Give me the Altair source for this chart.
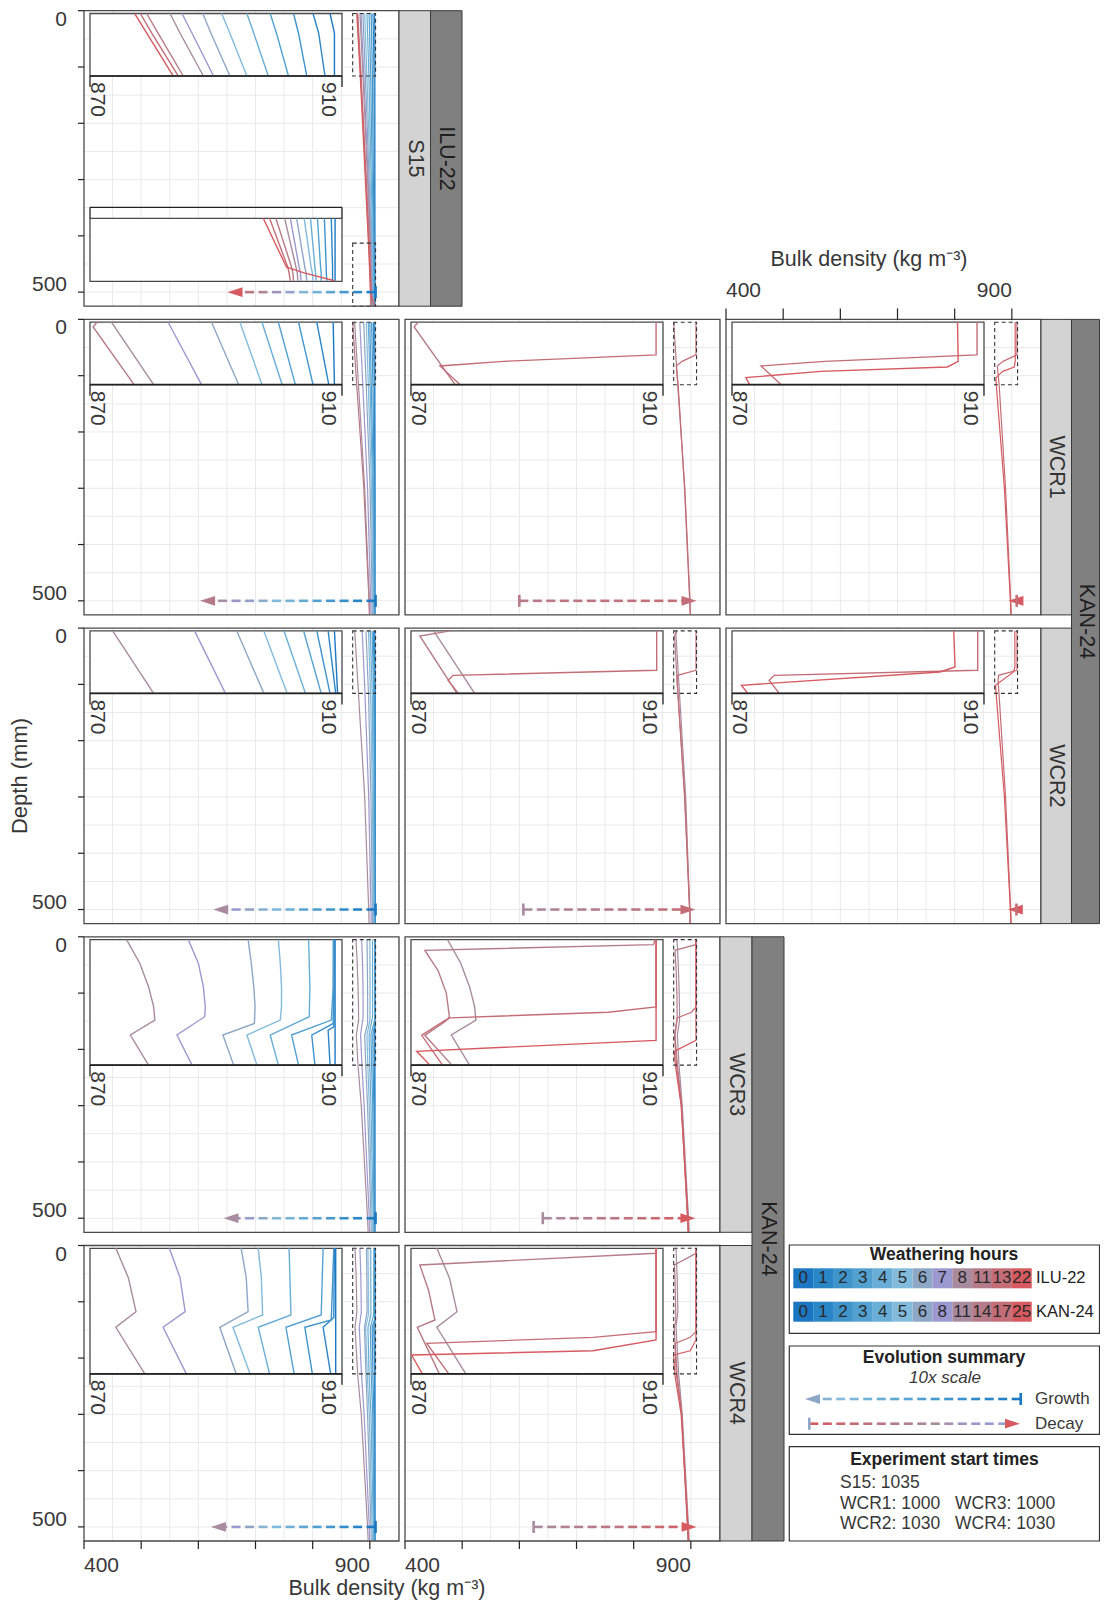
import altair as alt
import pandas as pd

# ======================= DATA =======================
ILU_HOURS = [0, 1, 2, 3, 4, 5, 6, 7, 8, 11, 13, 22]
KAN_HOURS = [0, 1, 2, 3, 4, 5, 6, 8, 11, 14, 17, 25]
START_LEFT = ["S15: 1035", "WCR1: 1000", "WCR2: 1030"]
START_RIGHT = ["WCR3: 1000", "WCR4: 1030"]

X_TICKS = [400, 500, 600, 700, 800, 900]
X_LABELS = [400, 900]
Y_TICKS = [0, 100, 200, 300, 400, 500]
Y_LABELS = [0, 500]
GRID_X = [450, 500, 550, 600, 650, 700, 750, 800, 850, 900, 950]
GRID_Y = [50, 100, 150, 200, 250, 300, 350, 400, 450, 500]
INSET_TICKS = [870, 910]

# S15 (ILU-22): density (kg m-3) at depth (mm); one row per weathering step (rank 0..11)
S15_DEPTH = [5, 40, 116, 413, 500, 510, 524]
S15_RHO = [
    [908.1, 908.8, 908.8, 908.9, 908.9, 908.9, 908.9],
    [905.4, 906.3, 907.3, 908.3, 908.5, 908.5, 908.5],
    [902.3, 903.1, 904.4, 907.2, 907.5, 907.5, 907.6],
    [898.6, 899.6, 901.5, 906.1, 906.6, 906.7, 906.7],
    [894.9, 896.0, 898.3, 905.0, 905.7, 905.8, 905.9],
    [890.9, 892.2, 894.9, 904.0, 905.1, 905.3, 905.4],
    [887.9, 889.2, 892.2, 902.8, 904.1, 904.3, 904.4],
    [884.6, 886.2, 889.6, 901.8, 903.2, 903.4, 903.5],
    [882.7, 884.3, 888.0, 900.9, 902.7, 902.9, 903.0],
    [879.0, 880.8, 884.8, 899.5, 902.0, 902.2, 902.3],
    [878.0, 879.8, 884.0, 898.5, 901.4, 901.6, 901.8],
    [877.1, 879.0, 883.2, 897.5, 901.2, 904.0, 908.8],
]

# WCR1 (KAN-24)
WCR1_DEPTH = [5, 116, 300, 500, 524]
WCR1_RHO = [
    [908.6, 908.8, 909.0, 909.0, 909.0],
    [906.0, 907.9, 908.5, 908.7, 908.7],
    [903.1, 905.4, 907.4, 908.0, 908.1],
    [899.9, 902.6, 906.0, 907.2, 907.4],
    [897.3, 900.5, 904.8, 906.5, 906.7],
    [893.8, 897.3, 903.0, 905.5, 905.8],
    [889.3, 893.6, 900.5, 904.0, 904.4],
    [882.4, 887.7, 896.0, 901.5, 902.0],
    [873.4, 880.1, 891.0, 899.0, 899.6],
]
WCR1_R9 = ([5, 13.5, 116, 300, 500, 524], [871.1, 870.5, 877.0, 889.5, 898.5, 899.2])
WCR1_R10 = ([5, 63, 74.5, 82.7, 116, 300, 500, 524], [908.9, 908.9, 884.7, 874.6, 877.8, 889.0, 898.0, 898.8])
WCR1_R11 = ([5, 74.5, 84.5, 92.3, 103.5, 116, 300, 500, 524],
            [905.8, 905.9, 904.2, 884.1, 872.2, 872.8, 887.0, 897.5, 898.3])

# WCR2 (KAN-24)
WCR2_DEPTH = [5, 116, 300, 500, 524]
WCR2_RHO = [
    [908.8, 909.3, 909.3, 909.3, 909.3],
    [907.8, 909.0, 909.0, 909.0, 909.0],
    [906.0, 908.1, 908.5, 908.7, 908.7],
    [903.9, 906.7, 907.5, 908.0, 908.1],
    [900.8, 904.2, 906.0, 907.0, 907.2],
    [897.6, 901.3, 904.5, 906.0, 906.3],
    [893.3, 897.6, 902.0, 904.5, 904.8],
    [886.6, 891.5, 898.0, 902.0, 902.4],
    [873.6, 880.1, 891.0, 898.0, 898.7],
]
WCR2_R9 = ([5, 14, 116, 300, 500, 524], [876.2, 871.4, 877.3, 889.5, 898.0, 899.0])
WCR2_R10 = ([5, 75, 83.9, 92.8, 116, 300, 500, 524], [909.0, 909.0, 876.7, 875.9, 877.5, 889.0, 897.8, 898.6])
WCR2_R11 = ([5, 69, 78, 101.6, 116, 300, 500, 524], [905.2, 905.4, 903.0, 871.5, 872.5, 887.0, 897.5, 898.3])

# WCR3 (KAN-24): (depths, densities) per rank
WCR3_LINES = {
    0: ([5, 228, 300, 500, 524], [908.9, 908.9, 908.9, 908.9, 908.9]),
    1: ([5, 160, 166, 228, 300, 500, 524], [908.8, 908.7, 907.8, 908.1, 908.4, 908.6, 908.7]),
    2: ([5, 154, 174.5, 228, 300, 500, 524], [908.7, 908.6, 905.2, 905.7, 907.0, 908.0, 908.3]),
    3: ([5, 89, 148, 174.5, 228, 300, 500, 524], [908.6, 908.6, 908.3, 902.0, 903.1, 905.0, 907.0, 907.5]),
    4: ([5, 89, 142, 174.5, 228, 300, 500, 524], [904.7, 904.9, 904.8, 898.6, 899.9, 902.0, 906.0, 906.5]),
    5: ([5, 47, 89, 124, 148, 174.5, 228, 300, 500, 524],
        [899.9, 900.2, 900.4, 900.4, 900.2, 894.9, 896.5, 899.0, 904.0, 904.5]),
    6: ([5, 47, 89, 124, 154, 174.5, 228, 300, 500, 524],
        [895.1, 895.6, 896.0, 896.2, 896.1, 891.1, 892.8, 896.0, 902.0, 902.5]),
    7: ([5, 47, 89, 124, 142, 174.5, 228, 300, 500, 524],
        [885.6, 887.2, 888.0, 888.3, 888.2, 883.8, 886.2, 890.0, 899.0, 899.5]),
    8: ([5, 47, 89, 124, 148, 174.5, 228, 300, 500, 524],
        [875.8, 877.9, 879.3, 880.1, 880.3, 876.4, 879.3, 885.0, 896.0, 897.0]),
    9: ([5, 14, 24, 60, 100, 142, 150, 175, 228, 300, 500, 524],
        [908.7, 908.5, 872.2, 874.3, 875.6, 876.1, 875.5, 872.2, 876.5, 884.0, 894.0, 895.0]),
    10: ([5, 124.7, 134, 144, 150, 175, 228, 300, 500, 524],
         [908.9, 908.9, 901.3, 876.2, 875.2, 871.7, 875.0, 883.5, 894.5, 895.5]),
    11: ([5, 184, 203.5, 228, 300, 500, 524], [908.9, 908.9, 870.9, 873.0, 883.0, 895.0, 896.0]),
}

# WCR4 (KAN-24)
WCR4_LINES = {
    0: ([5, 228, 300, 500, 524], [909.0, 909.0, 909.0, 909.0, 909.0]),
    1: ([5, 128, 145.3, 228, 300, 500, 524], [908.8, 908.7, 907.0, 908.2, 908.5, 908.7, 908.8]),
    2: ([5, 132.4, 145.3, 228, 300, 500, 524], [908.7, 908.3, 904.1, 905.3, 907.0, 908.0, 908.3]),
    3: ([5, 123.5, 145.3, 228, 300, 500, 524], [907.0, 906.7, 901.1, 902.4, 905.0, 907.0, 907.5]),
    4: ([5, 123.5, 145.3, 228, 300, 500, 524], [901.6, 901.9, 896.7, 898.5, 902.0, 906.0, 906.5]),
    5: ([5, 57.5, 123.5, 145.3, 228, 300, 500, 524], [896.7, 897.2, 897.4, 892.7, 895.4, 899.0, 904.0, 904.5]),
    6: ([5, 57.5, 117.6, 145.3, 228, 300, 500, 524], [894.0, 894.8, 895.1, 890.6, 893.2, 896.0, 902.0, 902.5]),
    7: ([5, 57.5, 117.6, 145.3, 228, 300, 500, 524], [882.6, 884.3, 885.1, 881.6, 885.3, 890.0, 899.0, 899.5]),
    8: ([5, 57.5, 117.6, 145.3, 228, 300, 500, 524], [874.1, 876.1, 877.3, 874.1, 878.7, 885.0, 896.0, 897.0]),
    9: ([5, 13.9, 34.6, 80, 132.4, 145.3, 228, 300, 500, 524],
        [908.9, 908.9, 871.4, 872.8, 873.8, 871.0, 874.5, 884.0, 894.0, 895.0]),
    10: ([5, 153, 163.2, 173.8, 228, 300, 500, 524], [908.9, 908.9, 898.9, 872.5, 876.0, 884.0, 894.5, 895.5]),
    11: ([5, 167.8, 187, 194.6, 228, 300, 500, 524], [908.9, 908.9, 898.9, 870.1, 871.8, 883.0, 895.0, 896.0]),
}

# panels: experiment, shown weathering ranks, evolution-summary arrow (10x scale)
PANEL_EXP = ["S15", "WCR1", "WCR1", "WCR1", "WCR2", "WCR2", "WCR2", "WCR3", "WCR3", "WCR4", "WCR4"]
PANEL_RANKS = [list(range(12)), list(range(10)), [9, 10], [10, 11], list(range(9)), [8, 9, 10], [10, 11],
               list(range(9)), [8, 9, 10, 11], list(range(9)), [8, 9, 10, 11]]
ARROW_FROM = [910, 910, 600, 908.5, 910, 607, 908, 910, 641, 910, 625]
ARROW_TO = [651, 603, 910, 894, 626, 908, 893, 644, 908, 622, 910]
ARROW_RANKS = [(0, 11), (0, 9), (9, 10), (10, 11), (0, 8), (8, 10), (10, 11), (0, 8), (8, 11), (0, 8), (8, 11)]
ARROW_DEPTH = 500
INSET_WINDOWS = {"S15": [(5, 116), (413, 525)], "WCR1": [(5, 116)], "WCR2": [(5, 116)],
                 "WCR3": [(5, 228)], "WCR4": [(5, 228)]}

# ======================= STYLE / LAYOUT =======================
COLORS = ["#1b77c2", "#2b86c8", "#3f94cc", "#53a1d1", "#69aed6", "#82bbdb",
          "#8da7c6", "#9c98d0", "#a98b9f", "#b67b88", "#c46d76", "#d65a5f"]
FONT = "Liberation Sans"
TXT = "#383838"
GRID = "#e9e9e9"
FRAME = "#4a4a4a"
LIGHT, DARK = "#d3d3d3", "#808080"

OFF = 8
CANVAS_W, CANVAS_H = 1092, 1592
COL_LEFT = [84, 405, 726]
ROW_TOP = [10.7, 319.4, 628.1, 936.8, 1245.5]
PW, PH = 315, 295.5
PANEL_GRID = [(0, 0), (1, 0), (1, 1), (1, 2), (2, 0), (2, 1), (2, 2), (3, 0), (3, 1), (4, 0), (4, 1)]
X_DOMAIN = [400, 951]
Y_DOMAIN = [0, 525]
INSET_X = [870, 910]
INSET_PX = [6, 258]
INSET2_PY = [207.6, 270.6]


def build_lines(depth, rho):
    return {r: (depth, rho[r]) for r in range(len(rho))}


EXP_LINES = {"S15": build_lines(S15_DEPTH, S15_RHO)}
EXP_LINES["WCR1"] = build_lines(WCR1_DEPTH, WCR1_RHO)
EXP_LINES["WCR1"].update({9: WCR1_R9, 10: WCR1_R10, 11: WCR1_R11})
EXP_LINES["WCR2"] = build_lines(WCR2_DEPTH, WCR2_RHO)
EXP_LINES["WCR2"].update({9: WCR2_R9, 10: WCR2_R10, 11: WCR2_R11})
EXP_LINES["WCR3"] = WCR3_LINES
EXP_LINES["WCR4"] = WCR4_LINES


def sx(col, dom=X_DOMAIN, p0=0, p1=PW):
    l = COL_LEFT[col] - OFF
    return alt.Scale(domain=dom, range=[l + p0, l + p1], nice=False, zero=False)


def sy(row, dom=Y_DOMAIN, p0=0, p1=PH):
    t = ROW_TOP[row] - OFF
    return alt.Scale(domain=dom, range=[t + p0, t + p1], nice=False, zero=False)


PX = alt.Scale(domain=[0, 1108], range=[-OFF, 1108 - OFF], nice=False, zero=False)
PY = alt.Scale(domain=[0, 1608], range=[-OFF, 1608 - OFF], nice=False, zero=False)


def C(df, mark, kw, xf, yf, XS, YS, x2=None, y2=None, **extra):
    enc = dict(x=alt.X(xf, type="quantitative", scale=XS, axis=None),
               y=alt.Y(yf, type="quantitative", scale=YS, axis=None))
    if x2 is not None:
        enc["x2"] = alt.X2(x2)
    if y2 is not None:
        enc["y2"] = alt.Y2(y2)
    enc.update(extra)
    return getattr(alt.Chart(df), "mark_" + mark)(**kw).encode(**enc)


def T(rows, XS, YS, size=21, **kw):
    base = dict(font=FONT, fontSize=size, color=TXT)
    base.update(kw)
    return C(pd.DataFrame(rows), "text", base, "x", "y", XS, YS, text=alt.Text("t:N"))


def hex2rgb(c):
    return [int(c[i:i + 2], 16) for i in (1, 3, 5)]


def mix(c1, c2, t):
    a, b = hex2rgb(c1), hex2rgb(c2)
    return "#%02x%02x%02x" % tuple(int(round(a[j] + (b[j] - a[j]) * t)) for j in range(3))


def palette_at(r0, r1, t):
    p = r0 + (r1 - r0) * t
    lo = int(p)
    lo = max(0, min(lo, 11))
    hi = min(lo + 1, 11)
    return mix(COLORS[lo], COLORS[hi], p - lo)


LINE_ENC = dict(color=alt.Color("c:N", scale=None), detail=alt.Detail("rank:N"), order=alt.Order("i:Q"))


def line_df(lines, ranks, dmin=None, dmax=None):
    rows = []
    for r in ranks:
        d, v = lines[r]
        for i, (dd, vv) in enumerate(zip(d, v)):
            if (dmin is None or dd >= dmin) and (dmax is None or dd <= dmax):
                rows.append(dict(rank=r, i=i, depth=dd, rho=vv, c=COLORS[r]))
    return pd.DataFrame(rows)


def arrow_layers(XS, YS, k, x_from, x_to, yv, r0, r1, bar_color=None, head_color=None, sw=2.6):
    s = 1 if x_to > x_from else -1
    length = abs(x_to - x_from)
    head = 15 * k
    stop = length - 0.5 * head
    dash, gap = 9 * k, 4.5 * k
    rows, a = [], 0.0
    while a < stop:
        b = min(a + dash, stop)
        t = (a + b) / 2 / length
        rows.append(dict(x0=x_from + s * a, x1=x_from + s * b, y=yv, c=palette_at(r0, r1, t)))
        a += dash + gap
    out = []
    if rows:
        out.append(C(pd.DataFrame(rows), "rule", dict(strokeWidth=sw), "x0", "y", XS, YS, x2="x1",
                     color=alt.Color("c:N", scale=None)))
    shape = "M-1,0L1,-0.65L1,0.65Z" if s < 0 else "M1,0L-1,-0.65L-1,0.65Z"
    out.append(C(pd.DataFrame([dict(x=x_to, y=yv)]), "point",
                 dict(shape=shape, filled=True, size=225, opacity=1, strokeWidth=0,
                      color=head_color or COLORS[r1], xOffset=-7.5 * s), "x", "y", XS, YS))
    out.append(C(pd.DataFrame([dict(x=x_from, y=yv)]), "tick",
                 dict(orient="vertical", size=12, thickness=sw, opacity=1,
                      color=bar_color or COLORS[r0]), "x", "y", XS, YS))
    return out


def inset_layers(exp, row, col, ranks, j, d0, d1):
    IX = sx(col, INSET_X, INSET_PX[0], INSET_PX[1])
    IY = sy(row) if j == 0 else sy(row, [d0, d1], INSET2_PY[0], INSET2_PY[1])
    L = []
    box = pd.DataFrame([dict(x0=INSET_X[0], x1=INSET_X[1], d0=d0, d1=d1)])
    L.append(C(box, "rect", dict(fill="white", stroke=FRAME, strokeWidth=1.3), "x0", "d0", IX, IY, x2="x1", y2="d1"))
    L.append(C(line_df(EXP_LINES[exp], ranks, d0, d1), "line", dict(strokeWidth=1.4), "rho", "depth", IX, IY,
               **LINE_ENC))
    if j == 0:
        L.append(C(box, "rule", dict(color="#222222", strokeWidth=1.7), "x0", "d1", IX, IY, x2="x1"))
        tk = pd.DataFrame({"x": INSET_TICKS, "y": d1})
        L.append(C(tk, "tick", dict(orient="vertical", size=11, thickness=1.3, color="#222222", yOffset=5.5,
                                    opacity=1), "x", "y", IX, IY))
        L.append(T([dict(x=INSET_TICKS[0], y=d1, t=str(INSET_TICKS[0]))], IX, IY, 21, angle=90, align="left",
                   baseline="alphabetic", dx=6, dy=-1))
        L.append(T([dict(x=INSET_TICKS[1], y=d1, t=str(INSET_TICKS[1]))], IX, IY, 21, angle=90, align="left",
                   baseline="top", dx=6, dy=3))
    else:
        L.append(C(box, "rule", dict(color="#222222", strokeWidth=1.3, yOffset=-11), "x0", "d0", IX, IY, x2="x1"))
        tk = pd.DataFrame({"x": INSET_TICKS, "y": d0})
        L.append(C(tk, "tick", dict(orient="vertical", size=11, thickness=1.3, color="#222222", yOffset=-5.5,
                                    opacity=1), "x", "y", IX, IY))
    return L


def panel_layers(i):
    exp = PANEL_EXP[i]
    row, col = PANEL_GRID[i]
    ranks = PANEL_RANKS[i]
    XS, YS = sx(col), sy(row)
    k = (X_DOMAIN[1] - X_DOMAIN[0]) / PW
    L = []
    gx = pd.DataFrame({"g": GRID_X, "y0": Y_DOMAIN[0], "y1": Y_DOMAIN[1]})
    L.append(C(gx, "rule", dict(color=GRID, strokeWidth=1), "g", "y0", XS, YS, y2="y1"))
    gy = pd.DataFrame({"g": GRID_Y, "x0": X_DOMAIN[0], "x1": X_DOMAIN[1]})
    L.append(C(gy, "rule", dict(color=GRID, strokeWidth=1), "x0", "g", XS, YS, x2="x1"))
    L.append(C(line_df(EXP_LINES[exp], ranks), "line", dict(strokeWidth=1.2), "rho", "depth", XS, YS, **LINE_ENC))
    for d0, d1 in INSET_WINDOWS[exp]:
        box = pd.DataFrame([dict(x0=INSET_X[0], x1=INSET_X[1], d0=d0, d1=d1)])
        L.append(C(box, "rect", dict(fillOpacity=0, stroke="#333333", strokeWidth=1.1, strokeDash=[4, 3]),
                   "x0", "d0", XS, YS, x2="x1", y2="d1"))
    r0, r1 = ARROW_RANKS[i]
    L += arrow_layers(XS, YS, k, ARROW_FROM[i], ARROW_TO[i], ARROW_DEPTH, r0, r1)
    frame = pd.DataFrame([dict(x0=X_DOMAIN[0], x1=X_DOMAIN[1], d0=Y_DOMAIN[0], d1=Y_DOMAIN[1])])
    L.append(C(frame, "rect", dict(fillOpacity=0, stroke=FRAME, strokeWidth=1.3), "x0", "d0", XS, YS,
               x2="x1", y2="d1"))
    if col == 0:
        ty = pd.DataFrame({"x": X_DOMAIN[0], "y": Y_TICKS})
        L.append(C(ty, "tick", dict(orient="horizontal", size=6, thickness=1.2, color="#222222", xOffset=-3,
                                    opacity=1), "x", "y", XS, YS))
        L.append(T([dict(x=X_DOMAIN[0], y=Y_LABELS[0], t=str(Y_LABELS[0]))], XS, YS, 21, align="right",
                   baseline="middle", dx=-17, dy=9))
        L.append(T([dict(x=X_DOMAIN[0], y=Y_LABELS[1], t=str(Y_LABELS[1]))], XS, YS, 21, align="right",
                   baseline="middle", dx=-17, dy=-7))
    if row == 4 or (row == 1 and col == 2):
        top = row == 1
        yv = Y_DOMAIN[0] if top else Y_DOMAIN[1]
        tx = pd.DataFrame({"x": X_TICKS, "y": yv})
        L.append(C(tx, "tick", dict(orient="vertical", size=11 if top else 8, thickness=1.2, color="#222222",
                                    yOffset=-5.5 if top else 4, opacity=1), "x", "y", XS, YS))
        dy = -28 if top else 25
        L.append(T([dict(x=X_LABELS[0], y=yv, t=str(X_LABELS[0]))], XS, YS, 21, align="left",
                   baseline="middle", dy=dy))
        L.append(T([dict(x=X_LABELS[1], y=yv, t=str(X_LABELS[1]))], XS, YS, 21, align="right",
                   baseline="middle", dy=dy))
    for j, (d0, d1) in enumerate(INSET_WINDOWS[exp]):
        L += inset_layers(exp, row, col, ranks, j, d0, d1)
    return L


layers = []
for i in range(len(PANEL_EXP)):
    layers += panel_layers(i)


# ---- facet strips ----
def row_span(r0, r1):
    return ROW_TOP[r0], ROW_TOP[r1] + PH


STRIPS = [
    (399, 430.5, row_span(0, 0), "S15", LIGHT, "#333333"),
    (430.5, 462, row_span(0, 0), "ILU-22", DARK, "#1e1e1e"),
    (1041, 1071.5, row_span(1, 1), "WCR1", LIGHT, "#333333"),
    (1041, 1071.5, row_span(2, 2), "WCR2", LIGHT, "#333333"),
    (1071.5, 1099.5, row_span(1, 2), "KAN-24", DARK, "#1e1e1e"),
    (720, 752, row_span(3, 3), "WCR3", LIGHT, "#333333"),
    (720, 752, row_span(4, 4), "WCR4", LIGHT, "#333333"),
    (752, 784, row_span(3, 4), "KAN-24", DARK, "#1e1e1e"),
]
for x0, x1, (y0, y1), lab, fill, tc in STRIPS:
    df = pd.DataFrame([dict(x0=x0, x1=x1, y0=y0, y1=y1)])
    layers.append(C(df, "rect", dict(fill=fill, stroke="#3a3a3a", strokeWidth=1), "x0", "y0", PX, PY,
                    x2="x1", y2="y1"))
    layers.append(T([dict(x=(x0 + x1) / 2, y=(y0 + y1) / 2, t=lab)], PX, PY, 21.5, angle=90, align="center",
                    baseline="middle", color=tc))

# ---- axis titles ----
TITLE = "Bulk density (kg m\u207b\u00b3)"
layers.append(T([dict(x=387, y=1589, t=TITLE)], PX, PY, 21.5, align="center", baseline="middle"))
layers.append(T([dict(x=869, y=260, t=TITLE)], PX, PY, 21.5, align="center", baseline="middle"))
layers.append(T([dict(x=20, y=776, t="Depth (mm)")], PX, PY, 22, align="center", baseline="middle", angle=270))

# ---- legends ----
LEG_X0, LEG_X1 = 789.3, 1099.5
for y0, y1 in [(1245, 1333.3), (1346, 1434.3), (1446.7, 1541)]:
    df = pd.DataFrame([dict(x0=LEG_X0, x1=LEG_X1, y0=y0, y1=y1)])
    layers.append(C(df, "rect", dict(fill="white", stroke="#333333", strokeWidth=1.2), "x0", "y0", PX, PY,
                    x2="x1", y2="y1"))

layers.append(T([dict(x=944, y=1255, t="Weathering hours")], PX, PY, 17.5, align="center", baseline="middle",
                fontWeight="bold", color="#222222"))
CELL_X0, CELL_W = 793.3, 19.87
for hours, (cy0, cy1), name in [(ILU_HOURS, (1268.3, 1288.3), "ILU-22"), (KAN_HOURS, (1301.7, 1321.7), "KAN-24")]:
    cells = pd.DataFrame([dict(x0=CELL_X0 + j * CELL_W, x1=CELL_X0 + (j + 1) * CELL_W, y0=cy0, y1=cy1,
                               c=COLORS[j]) for j in range(len(hours))])
    layers.append(C(cells, "rect", dict(opacity=1), "x0", "y0", PX, PY, x2="x1", y2="y1",
                    color=alt.Color("c:N", scale=None)))
    layers.append(T([dict(x=CELL_X0 + (j + 0.5) * CELL_W, y=(cy0 + cy1) / 2, t=str(h)) for j, h in enumerate(hours)],
                    PX, PY, 17, align="center", baseline="middle", color="#2a2a2a"))
    layers.append(T([dict(x=1036, y=(cy0 + cy1) / 2, t=name)], PX, PY, 16.5, align="left", baseline="middle",
                    color="#222222"))

layers.append(T([dict(x=944, y=1358.3, t="Evolution summary")], PX, PY, 17.5, align="center", baseline="middle",
                fontWeight="bold", color="#222222"))
layers.append(T([dict(x=945, y=1378.3, t="10x scale")], PX, PY, 17, align="center", baseline="middle",
                fontStyle="italic"))
layers += arrow_layers(PX, PY, 1, 1020.7, 805, 1399, 0, 6)
layers += arrow_layers(PX, PY, 1, 809.3, 1020, 1423.7, 11, 6, bar_color=COLORS[6], head_color=COLORS[11])
layers.append(T([dict(x=1035, y=1399, t="Growth")], PX, PY, 17, align="left", baseline="middle"))
layers.append(T([dict(x=1035, y=1423.7, t="Decay")], PX, PY, 17, align="left", baseline="middle"))

layers.append(T([dict(x=944.5, y=1460, t="Experiment start times")], PX, PY, 17.5, align="center",
                baseline="middle", fontWeight="bold", color="#222222"))
layers.append(T([dict(x=840, y=y, t=t) for t, y in zip(START_LEFT, [1483.3, 1504.3, 1524.3])], PX, PY, 17.5,
                align="left", baseline="middle"))
layers.append(T([dict(x=955, y=y, t=t) for t, y in zip(START_RIGHT, [1504.3, 1524.3])], PX, PY, 17.5,
                align="left", baseline="middle"))

chart = alt.layer(*layers).resolve_scale(x="independent", y="independent").properties(
    width=CANVAS_W, height=CANVAS_H, padding=0, autosize=alt.AutoSizeParams(type="none")
).configure_view(strokeWidth=0)

chart.save("out.html", embed_options={"renderer": "svg", "actions": False})
